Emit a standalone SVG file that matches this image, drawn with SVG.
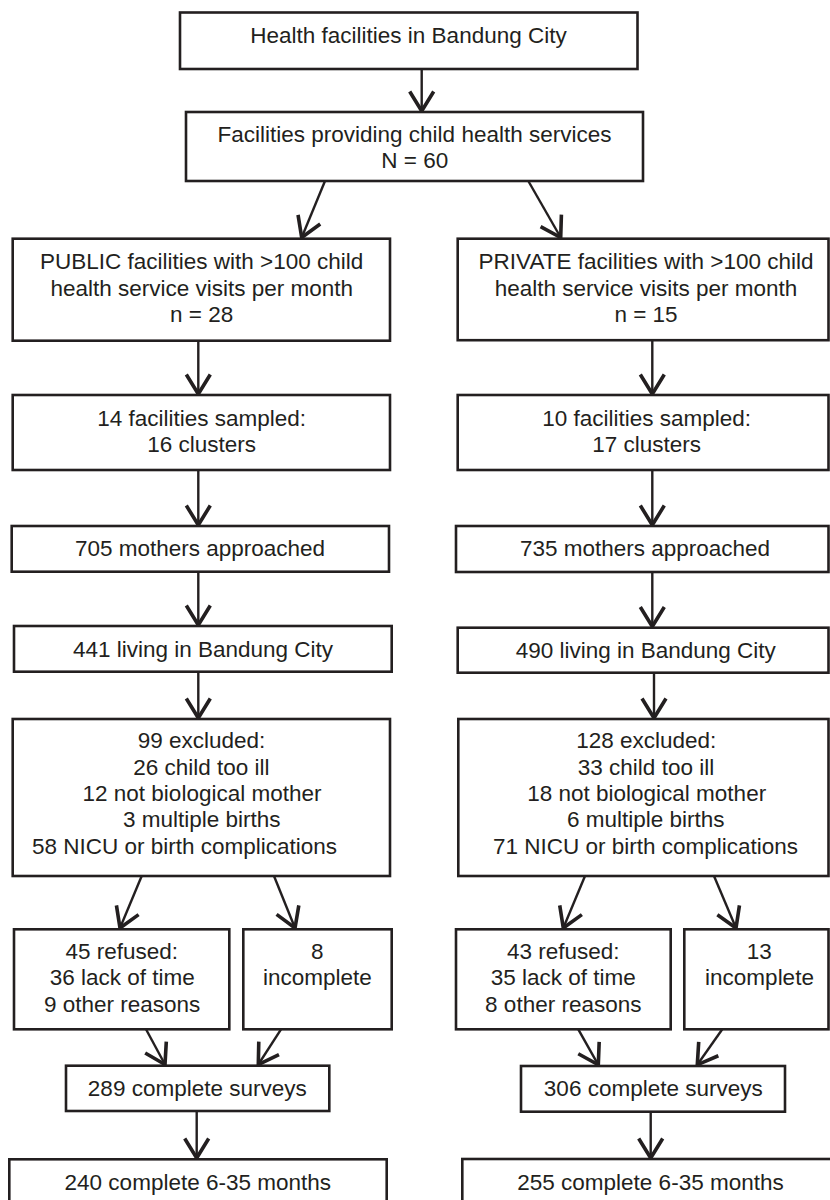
<svg xmlns="http://www.w3.org/2000/svg" width="830" height="1200" viewBox="0 0 830 1200">
<style>
.box{fill:#fff;stroke:#231f20;stroke-width:2.6}
.t{font-family:"Liberation Sans",Arial,Helvetica,sans-serif;font-size:22.5px;fill:#231f20;text-anchor:middle}
.c{stroke:#231f20;stroke-width:2.4;fill:none}
</style>
<defs>
<marker id="ah" markerUnits="userSpaceOnUse" markerWidth="30" markerHeight="30" viewBox="-16 -10 18 20" refX="0" refY="0" orient="auto" overflow="visible">
<path d="M-13,-8 L0,0 L-13,8" fill="none" stroke="#231f20" stroke-width="2.4" stroke-linejoin="miter"/>
</marker>
</defs>
<rect width="830" height="1200" fill="#fff"/>
<g id="connectors">
<line class="c" x1="421.7" y1="69" x2="421.7" y2="111" marker-end="url(#ah)"/>
<line class="c" x1="325" y1="181" x2="301.7" y2="237.5" marker-end="url(#ah)"/>
<line class="c" x1="528.3" y1="181" x2="560.7" y2="237.5" marker-end="url(#ah)"/>
<line class="c" x1="198.3" y1="341" x2="198.3" y2="394" marker-end="url(#ah)"/>
<line class="c" x1="652.3" y1="340" x2="652.3" y2="394" marker-end="url(#ah)"/>
<line class="c" x1="198.3" y1="470" x2="198.3" y2="525" marker-end="url(#ah)"/>
<line class="c" x1="652.3" y1="470" x2="652.3" y2="525" marker-end="url(#ah)"/>
<line class="c" x1="198.3" y1="572" x2="198.3" y2="625" marker-end="url(#ah)"/>
<line class="c" x1="652.3" y1="572" x2="652.3" y2="626.5" marker-end="url(#ah)"/>
<line class="c" x1="198.3" y1="672" x2="198.3" y2="718" marker-end="url(#ah)"/>
<line class="c" x1="654" y1="673" x2="654" y2="718" marker-end="url(#ah)"/>
<line class="c" x1="141.7" y1="876" x2="120" y2="928" marker-end="url(#ah)"/>
<line class="c" x1="274" y1="876" x2="295" y2="928" marker-end="url(#ah)"/>
<line class="c" x1="585" y1="876" x2="563.3" y2="928" marker-end="url(#ah)"/>
<line class="c" x1="714" y1="876" x2="736" y2="928" marker-end="url(#ah)"/>
<line class="c" x1="146" y1="1029.3" x2="165" y2="1064.5" marker-end="url(#ah)"/>
<line class="c" x1="281" y1="1029.3" x2="258.3" y2="1064.5" marker-end="url(#ah)"/>
<line class="c" x1="578.3" y1="1029.3" x2="598.3" y2="1064.8" marker-end="url(#ah)"/>
<line class="c" x1="722.3" y1="1029.3" x2="697.3" y2="1064.8" marker-end="url(#ah)"/>
<line class="c" x1="196.7" y1="1111" x2="196.7" y2="1158" marker-end="url(#ah)"/>
<line class="c" x1="650.7" y1="1112" x2="650.7" y2="1158" marker-end="url(#ah)"/>
</g>
<g id="n1"><rect class="box" x="180" y="12.5" width="457.5" height="56.5"/><text class="t" x="408.5" y="43">Health facilities in Bandung City</text></g>
<g id="n2"><rect class="box" x="186" y="112" width="457" height="69"/><text class="t" x="414.5" y="141.7">Facilities providing child health services</text><text class="t" x="414.7" y="168.3">N = 60</text></g>
<g id="pub1"><rect class="box" x="12.7" y="238.7" width="377.3" height="102"/><text class="t" x="201.7" y="269">PUBLIC facilities with &gt;100 child</text><text class="t" x="201.7" y="295.7">health service visits per month</text><text class="t" x="201.7" y="321.7">n = 28</text></g>
<g id="pri1"><rect class="box" x="457.7" y="238.7" width="370.8" height="101.5"/><text class="t" x="646" y="269">PRIVATE facilities with &gt;100 child</text><text class="t" x="646" y="295.7">health service visits per month</text><text class="t" x="646" y="321.7">n = 15</text></g>
<g id="pub2"><rect class="box" x="12.7" y="395" width="377.3" height="75"/><text class="t" x="201.7" y="426">14 facilities sampled:</text><text class="t" x="201.7" y="451.7">16 clusters</text></g>
<g id="pri2"><rect class="box" x="457.7" y="395" width="370.8" height="75"/><text class="t" x="646.7" y="426">10 facilities sampled:</text><text class="t" x="646.7" y="451.7">17 clusters</text></g>
<g id="pub3"><rect class="box" x="11.7" y="526" width="377.3" height="45.7"/><text class="t" x="200" y="556">705 mothers approached</text></g>
<g id="pri3"><rect class="box" x="456" y="526" width="372.5" height="46"/><text class="t" x="645" y="556">735 mothers approached</text></g>
<g id="pub4"><rect class="box" x="14" y="626" width="377.7" height="45.7"/><text class="t" x="203" y="656.7">441 living in Bandung City</text></g>
<g id="pri4"><rect class="box" x="457.7" y="627.7" width="370.8" height="45"/><text class="t" x="645.8" y="658">490 living in Bandung City</text></g>
<g id="pub5"><rect class="box" x="12.7" y="719" width="377.3" height="157"/><text class="t" x="201.5" y="748.3">99 excluded:</text><text class="t" x="201.3" y="774.7">26 child too ill</text><text class="t" x="202" y="801">12 not biological mother</text><text class="t" x="201.7" y="827.3">3 multiple births</text><text class="t" x="184.5" y="853.6">58 NICU or birth complications</text></g>
<g id="pri5"><rect class="box" x="458.3" y="719" width="370.2" height="157"/><text class="t" x="646.3" y="748.3">128 excluded:</text><text class="t" x="646" y="774.7">33 child too ill</text><text class="t" x="646.7" y="801">18 not biological mother</text><text class="t" x="645.8" y="827.3">6 multiple births</text><text class="t" x="645.5" y="853.6">71 NICU or birth complications</text></g>
<g id="pub6a"><rect class="box" x="14" y="929.3" width="215.3" height="100"/><text class="t" x="121.7" y="959.3">45 refused:</text><text class="t" x="122.2" y="985">36 lack of time</text><text class="t" x="122.2" y="1011.7">9 other reasons</text></g>
<g id="pub6b"><rect class="box" x="243.3" y="929.3" width="148.4" height="100"/><text class="t" x="317.3" y="959.3">8</text><text class="t" x="317.3" y="985">incomplete</text></g>
<g id="pri6a"><rect class="box" x="456" y="929.3" width="214.7" height="100"/><text class="t" x="563.3" y="959.3">43 refused:</text><text class="t" x="563.3" y="985">35 lack of time</text><text class="t" x="563.3" y="1011.7">8 other reasons</text></g>
<g id="pri6b"><rect class="box" x="684.3" y="929.3" width="144.2" height="100"/><text class="t" x="759.3" y="959.3">13</text><text class="t" x="759.5" y="985">incomplete</text></g>
<g id="pub7"><rect class="box" x="66" y="1065.7" width="263.3" height="45.3"/><text class="t" x="197.3" y="1096">289 complete surveys</text></g>
<g id="pri7"><rect class="box" x="521" y="1066" width="264" height="45.7"/><text class="t" x="653.3" y="1096">306 complete surveys</text></g>
<g id="pub8"><rect class="box" x="9.3" y="1159.3" width="377.4" height="60"/><text class="t" x="197.8" y="1190">240 complete 6-35 months</text></g>
<g id="pri8"><rect class="box" x="462.3" y="1159" width="370" height="60"/><text class="t" x="650.5" y="1190">255 complete 6-35 months</text></g>
</svg>
